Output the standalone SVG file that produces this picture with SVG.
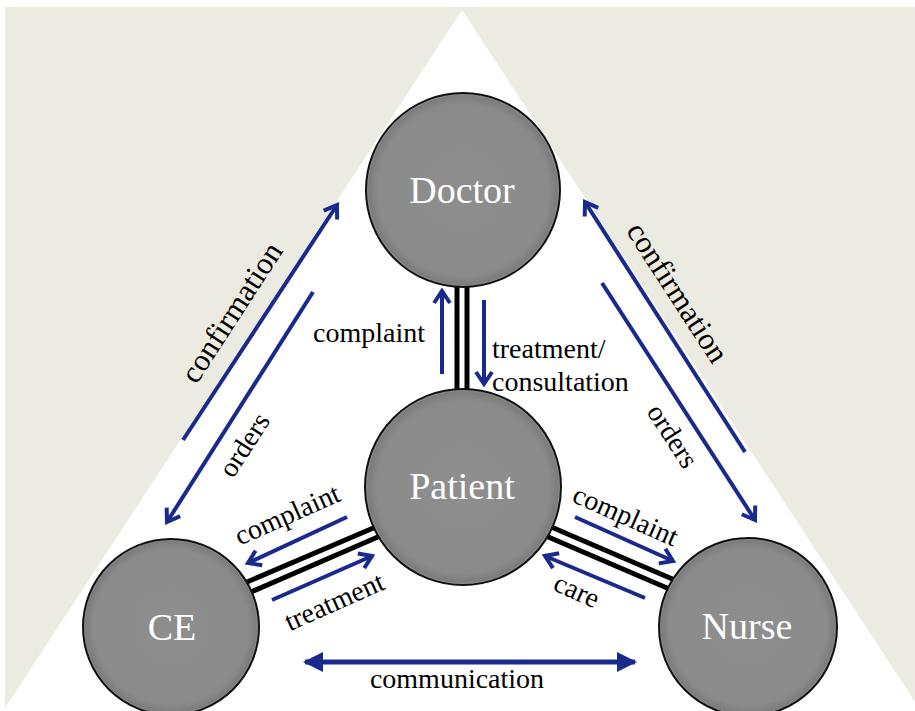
<svg xmlns="http://www.w3.org/2000/svg" width="915" height="711" viewBox="0 0 915 711">
  <defs>
    <radialGradient id="ballFill" cx="50%" cy="50%" r="50%">
      <stop offset="0" stop-color="#8e8e8e"/>
      <stop offset="0.88" stop-color="#8b8b8b"/>
      <stop offset="0.97" stop-color="#7c7c7c"/>
      <stop offset="1" stop-color="#9a9a9a"/>
    </radialGradient>
    <marker id="chevron" viewBox="0 0 20 20" refX="16" refY="10" markerWidth="20" markerHeight="20" markerUnits="userSpaceOnUse" orient="auto">
      <path d="M4,2 L16,10 L4,18" fill="none" stroke="#1a2a8c" stroke-width="4" stroke-linejoin="miter"/>
    </marker>
    <marker id="tri" viewBox="0 0 20 20" refX="18" refY="10" markerWidth="20" markerHeight="20" markerUnits="userSpaceOnUse" orient="auto-start-reverse">
      <path d="M0,0 L20,10 L0,20 Z" fill="#1a2a8c"/>
    </marker>
  </defs>
  <style>
    .node circle { fill: url(#ballFill); stroke: #111; stroke-width: 2; }
    .node text { font-family: "Liberation Serif", "Times New Roman", serif; font-size: 38px; fill: #ffffff; text-anchor: middle; }
    .link { stroke: #000; stroke-width: 5; fill: none; }
    .flow { stroke: #1a2a8c; stroke-width: 4; fill: none; marker-end: url(#chevron); }
    .comm { stroke: #1a2a8c; stroke-width: 5; fill: none; marker-start: url(#tri); marker-end: url(#tri); }
    .lbl { font-family: "Liberation Serif", "Times New Roman", serif; font-size: 28px; fill: #000; }
    .big { font-size: 31px; }
    .mid { text-anchor: middle; }
  </style>

  <!-- backdrop: beige panel with a white triangle -->
  <rect x="0" y="0" width="915" height="711" fill="#ffffff"/>
  <rect x="5" y="7" width="910" height="704" fill="#ecebe1"/>
  <polygon points="462,10 3,711 921,711" fill="#ffffff"/>

  <!-- connectors -->
  <g id="connectors">
    <!-- Doctor - Patient -->
    <line class="link" x1="457" y1="284" x2="457" y2="391"/>
    <line class="link" x1="467" y1="284" x2="467" y2="391"/>
    <line class="flow" x1="442" y1="374" x2="442" y2="291"/>
    <line class="flow" x1="484" y1="300" x2="484" y2="384"/>

    <!-- Patient - CE -->
    <line class="link" x1="385" y1="523" x2="247" y2="582"/>
    <line class="link" x1="387" y1="533" x2="251" y2="592"/>
    <line class="flow" x1="347" y1="517" x2="248" y2="563"/>
    <line class="flow" x1="272" y1="600" x2="372" y2="556"/>

    <!-- Patient - Nurse -->
    <line class="link" x1="542" y1="523" x2="677" y2="581"/>
    <line class="link" x1="539" y1="533" x2="674" y2="591"/>
    <line class="flow" x1="575" y1="517" x2="673" y2="561"/>
    <line class="flow" x1="645" y1="598" x2="545" y2="556"/>

    <!-- Doctor - CE -->
    <line class="flow" x1="183" y1="440" x2="337" y2="205"/>
    <line class="flow" x1="313" y1="292" x2="167" y2="522"/>

    <!-- Doctor - Nurse -->
    <line class="flow" x1="745" y1="452" x2="585" y2="202"/>
    <line class="flow" x1="602" y1="283" x2="755" y2="520"/>

    <!-- CE - Nurse -->
    <line class="comm" x1="305" y1="662" x2="635" y2="662"/>
  </g>

  <!-- connector labels -->
  <g id="labels">
    <text class="lbl" x="313" y="342">complaint</text>
    <text class="lbl" x="492" y="358">treatment/</text>
    <text class="lbl" x="492" y="391">consultation</text>

    <text class="lbl big mid" transform="translate(240,318) rotate(-57)">confirmation</text>
    <text class="lbl mid" transform="translate(252,450) rotate(-57)">orders</text>
    <text class="lbl big mid" transform="translate(669,298) rotate(57)">confirmation</text>
    <text class="lbl mid" transform="translate(665,441) rotate(57)">orders</text>

    <text class="lbl mid" transform="translate(291,523) rotate(-24)">complaint</text>
    <text class="lbl mid" transform="translate(338,610) rotate(-24)">treatment</text>
    <text class="lbl mid" transform="translate(622,524) rotate(24)">complaint</text>
    <text class="lbl mid" transform="translate(573,599) rotate(24)">care</text>

    <text class="lbl mid" x="457" y="688">communication</text>
  </g>

  <!-- nodes -->
  <g id="doctor" class="node">
    <circle cx="463" cy="190" r="97"/>
    <text x="462" y="203">Doctor</text>
  </g>
  <g id="patient" class="node">
    <circle cx="463" cy="487" r="98"/>
    <text x="462" y="499">Patient</text>
  </g>
  <g id="ce" class="node">
    <circle cx="171" cy="627" r="88"/>
    <text x="172" y="640">CE</text>
  </g>
  <g id="nurse" class="node">
    <circle cx="748" cy="627" r="89"/>
    <text x="747" y="639">Nurse</text>
  </g>
</svg>
